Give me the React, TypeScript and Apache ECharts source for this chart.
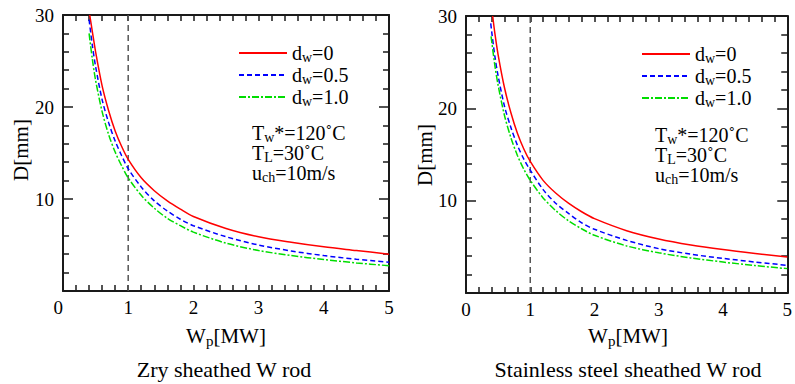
import React, { useEffect, useRef } from "react";
import * as echarts from "echarts";

const FONT = "Times New Roman, Liberation Serif, serif";

// Series names
const seriesNames = ["dw=0", "dw=0.5", "dw=1.0"];
const legendLabels = ["{a|d}{s|w}{a|=0}", "{a|d}{s|w}{a|=0.5}", "{a|d}{s|w}{a|=1.0}"];

// Left panel: Zry sheathed W rod  [Wp (MW), D (mm)]
const zryRed: number[][] = [
  [0.41, 30], [0.45, 28.2], [0.5, 26], [0.6, 22.3], [0.7, 19.6], [0.8, 17.4], [0.9, 15.7],
  [1.0, 14.3], [1.2, 12.3], [1.4, 10.9], [1.6, 9.8], [1.8, 8.9], [2.0, 8.1], [2.5, 6.8],
  [3.0, 5.9], [3.5, 5.3], [4.0, 4.8], [4.5, 4.4], [5.0, 4.0],
];
const zryBlue: number[][] = [
  [0.4, 29.5], [0.45, 26.7], [0.5, 24.4], [0.6, 20.8], [0.7, 18.3], [0.8, 16.3], [0.9, 14.7],
  [1.0, 13.3], [1.2, 11.3], [1.4, 9.8], [1.6, 8.7], [1.8, 7.8], [2.0, 7.1], [2.5, 5.9],
  [3.0, 5.0], [3.5, 4.35], [4.0, 3.85], [4.5, 3.45], [5.0, 3.12],
];
const zryGreen: number[][] = [
  [0.4, 28.0], [0.45, 25.2], [0.5, 22.9], [0.6, 19.5], [0.7, 17.0], [0.8, 15.1], [0.9, 13.6],
  [1.0, 12.3], [1.2, 10.4], [1.4, 9.0], [1.6, 7.9], [1.8, 7.1], [2.0, 6.4], [2.5, 5.2],
  [3.0, 4.4], [3.5, 3.85], [4.0, 3.42], [4.5, 3.05], [5.0, 2.75],
];

// Right panel: Stainless steel sheathed W rod
const ssRed: number[][] = [
  [0.415, 30], [0.45, 28.1], [0.5, 25.8], [0.6, 22.2], [0.7, 19.5], [0.8, 17.3], [0.9, 15.6],
  [1.0, 14.25], [1.2, 12.2], [1.4, 10.8], [1.6, 9.7], [1.8, 8.8], [2.0, 8.05], [2.5, 6.75],
  [3.0, 5.85], [3.5, 5.2], [4.0, 4.7], [4.5, 4.28], [5.0, 3.9],
];
const ssBlue: number[][] = [
  [0.385, 29.2], [0.4, 28.3], [0.45, 25.6], [0.5, 23.5], [0.6, 20.2], [0.7, 17.9], [0.8, 16.0],
  [0.9, 14.5], [1.0, 13.3], [1.2, 11.2], [1.4, 9.7], [1.6, 8.6], [1.8, 7.6], [2.0, 6.9],
  [2.5, 5.7], [3.0, 4.8], [3.5, 4.2], [4.0, 3.75], [4.5, 3.35], [5.0, 3.0],
];
const ssGreen: number[][] = [
  [0.39, 27.8], [0.45, 24.6], [0.5, 22.5], [0.6, 19.2], [0.7, 16.8], [0.8, 14.9], [0.9, 13.4],
  [1.0, 12.2], [1.2, 10.3], [1.4, 8.9], [1.6, 7.8], [1.8, 6.95], [2.0, 6.25], [2.5, 5.1],
  [3.0, 4.35], [3.5, 3.8], [4.0, 3.35], [4.5, 2.97], [5.0, 2.64],
];

// Reference vertical line at Wp = 1
const refLine: number[][] = [[1, 0], [1, 30]];

const xRange = { min: 0, max: 5, interval: 1 };
const yRange = { min: 0, max: 30, interval: 10 };

const subtitles = ["Zry sheathed W rod", "Stainless steel sheathed W rod"];
const condLines = ["{a|T}{s|w}{a|*=120˚C}", "{a|T}{s|L}{a|=30˚C}", "{a|u}{s|ch}{a|=10m/s}"];

const mkRich = (main: number, sub: number, pad: number) => ({
  a: { fontSize: main, fontFamily: FONT, color: "#000" },
  s: { fontSize: sub, fontFamily: FONT, color: "#000", padding: [pad, 0, 0, 0] },
});
const richLegend = mkRich(20, 14, 8);
const richAnnot = mkRich(20, 14, 9);
const richTitle = mkRich(21, 15, 10);

const AXIS_COLOR = "#1a1a1a";

export default function App() {
  const ref = useRef<HTMLDivElement>(null);
  useEffect(() => {
    if (!ref.current) return;
    const chart = echarts.init(ref.current, undefined, { renderer: "svg" });

    const grids = [
      { left: 63, top: 15, width: 326, height: 276 },
      { left: 466, top: 16, width: 325, height: 277 },
    ];

    const tickStyle = { color: AXIS_COLOR, width: 1.5 };
    const xAxes: any[] = [];
    const yAxes: any[] = [];
    grids.forEach((_, gi) => {
      const common = {
        gridIndex: gi,
        type: "value",
        splitLine: { show: false },
        axisLine: { show: true, onZero: false, lineStyle: { color: AXIS_COLOR, width: 2 } },
      };
      xAxes.push({
        ...common,
        ...xRange,
        position: "bottom",
        axisTick: { show: true, inside: true, length: 6, lineStyle: tickStyle },
        minorTick: { show: true, splitNumber: 5, length: 6, lineStyle: tickStyle },
        axisLabel: {
          show: true, fontFamily: FONT, fontSize: 19, color: "#000", margin: 7,
          alignMinLabel: gi === 0 ? "right" : "center",
        },
      });
      xAxes.push({
        ...common,
        ...xRange,
        position: "top",
        axisTick: { show: true, inside: true, length: 6, lineStyle: tickStyle },
        minorTick: { show: true, splitNumber: 5, length: 6, lineStyle: tickStyle },
        axisLabel: { show: false },
      });
      yAxes.push({
        ...common,
        ...yRange,
        position: "left",
        axisTick: { show: true, inside: true, length: 10, lineStyle: tickStyle },
        minorTick: { show: true, splitNumber: 5, length: 6, lineStyle: tickStyle },
        axisLabel: {
          show: true, fontFamily: FONT, fontSize: 19, color: "#000", margin: 9,
          formatter: (v: number) => (v === 0 ? "" : String(v)),
        },
      });
      yAxes.push({
        ...common,
        ...yRange,
        position: "right",
        axisTick: { show: true, inside: true, length: 10, lineStyle: tickStyle },
        minorTick: { show: true, splitNumber: 5, length: 6, lineStyle: tickStyle },
        axisLabel: { show: false },
      });
    });

    const styles = [
      { color: "#ff0000", type: "solid" as any },
      { color: "#0000ff", type: [5, 3] as any },
      { color: "#00dd00", type: [7, 2, 2, 2] as any },
    ];
    const panels = [
      [zryRed, zryBlue, zryGreen],
      [ssRed, ssBlue, ssGreen],
    ];

    const series: any[] = [];
    panels.forEach((sets, gi) => {
      sets.forEach((data, si) => {
        series.push({
          name: seriesNames[si],
          type: "line",
          xAxisIndex: gi * 2,
          yAxisIndex: gi * 2,
          data,
          smooth: 0.3,
          symbol: "none",
          lineStyle: { color: styles[si].color, width: 1.5, type: styles[si].type },
          itemStyle: { color: styles[si].color },
          z: 3,
        });
      });
      series.push({
        name: "ref" + gi,
        type: "line",
        xAxisIndex: gi * 2,
        yAxisIndex: gi * 2,
        data: refLine,
        symbol: "none",
        lineStyle: { color: "#555", width: 1.5, type: [6, 4] },
        z: 2,
      });
    });

    const legendFormatter = (name: string) => legendLabels[seriesNames.indexOf(name)] || name;
    const legendBase = {
      orient: "vertical",
      itemWidth: 48,
      itemHeight: 14,
      itemGap: 1,
      selectedMode: false,
      data: seriesNames,
      formatter: legendFormatter,
      itemStyle: { opacity: 0 },
      textStyle: { fontFamily: FONT, fontSize: 20, color: "#000", rich: richLegend },
    };

    const annot = (x: number, y: number) =>
      condLines.map((t, i) => ({
        type: "text",
        x,
        y: y + i * 20,
        style: { text: t, rich: richAnnot, verticalAlign: "middle", font: `20px ${FONT}` },
      }));

    const textEl = (text: string, x: number, y: number, rot = 0) => ({
      type: "text",
      x,
      y,
      rotation: rot,
      style: { text, rich: richTitle, align: "center", verticalAlign: "middle", font: `21px ${FONT}` },
    });

    chart.setOption({
      animation: false,
      backgroundColor: "#fff",
      textStyle: { fontFamily: FONT },
      grid: grids,
      xAxis: xAxes,
      yAxis: yAxes,
      legend: [
        { ...legendBase, left: 233, top: 38 },
        { ...legendBase, left: 636, top: 39 },
      ],
      series,
      graphic: [
        ...annot(252, 133),
        ...annot(655, 135),
        textEl("{a|D[mm]}", 21, 150, Math.PI / 2),
        textEl("{a|D[mm]}", 425, 155, Math.PI / 2),
        textEl("{a|W}{s|p}{a|[MW]}", 226, 336),
        textEl("{a|W}{s|p}{a|[MW]}", 628, 336),
        {
          type: "text", x: 224, y: 369,
          style: { text: subtitles[0], align: "center", verticalAlign: "middle", font: `22px ${FONT}`, fill: "#000" },
        },
        {
          type: "text", x: 628, y: 369,
          style: { text: subtitles[1], align: "center", verticalAlign: "middle", font: `22px ${FONT}`, fill: "#000" },
        },
      ],
    });
    return () => chart.dispose();
  }, []);
  return <div ref={ref} style={{ position: "fixed", left: 0, top: 0, width: 795, height: 384, background: "#fff" }} />;
}
